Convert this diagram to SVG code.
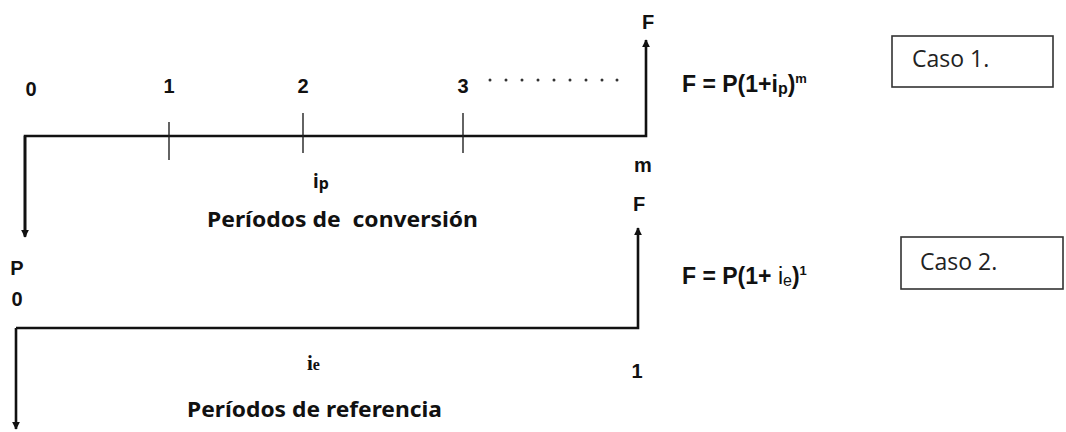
<svg xmlns="http://www.w3.org/2000/svg" width="1066" height="432" viewBox="0 0 1066 432">
<defs>
<marker id="ah" viewBox="0 0 10 10" refX="9" refY="5" markerWidth="8" markerHeight="8" markerUnits="userSpaceOnUse" orient="auto">
<path d="M0,0 L10,5 L0,10 z" fill="#111"/>
</marker>
<style>
.ax{fill:none;stroke:#111;stroke-width:2.6;stroke-linejoin:miter}
.tk{stroke:#222;stroke-width:1.4}
.lb{font-family:"Liberation Sans",Arial,sans-serif;font-weight:bold;font-size:20px;fill:#111;text-anchor:middle}
.fm{font-family:"Liberation Sans",Arial,sans-serif;font-weight:bold;font-size:23px;fill:#111}
.pd{font-family:"Noto Sans","DejaVu Sans",sans-serif;font-weight:bold;font-size:22px;fill:#111}
.cs{font-family:"Open Sans",sans-serif;font-size:23px;fill:#222}
.bx{fill:#fff;stroke:#333;stroke-width:1.6}
.dt{fill:#333}
</style>
</defs>
<rect width="1066" height="432" fill="#fff"/>

<g id="connectors">
<path class="ax" d="M25,236 V136 H646 V40" marker-end="url(#ah)"/>
<path class="ax" d="M25,136 V237" marker-end="url(#ah)"/>
<line class="tk" x1="169" y1="122" x2="169" y2="160"/>
<line class="tk" x1="303" y1="113" x2="303" y2="153"/>
<line class="tk" x1="463" y1="113" x2="463" y2="153"/>
<path class="ax" d="M16,328 H638 V228" marker-end="url(#ah)"/>
<path class="ax" d="M16,328 V429" marker-end="url(#ah)"/>
</g>

<g id="case1-labels">
<text class="lb" x="31" y="96">0</text>
<text class="lb" x="169" y="93">1</text>
<text class="lb" x="303" y="93">2</text>
<text class="lb" x="463" y="93">3</text>
<g id="dots">
<circle class="dt" cx="490" cy="80" r="1.5"/>
<circle class="dt" cx="506" cy="80" r="1.5"/>
<circle class="dt" cx="522" cy="80" r="1.5"/>
<circle class="dt" cx="538" cy="80" r="1.5"/>
<circle class="dt" cx="554" cy="80" r="1.5"/>
<circle class="dt" cx="570" cy="80" r="1.5"/>
<circle class="dt" cx="586" cy="80" r="1.5"/>
<circle class="dt" cx="602" cy="80" r="1.5"/>
<circle class="dt" cx="617" cy="80" r="1.5"/>
</g>
<text class="lb" x="648" y="29">F</text>
<text class="lb" x="643" y="172">m</text>
<text class="pd" x="313" y="188" style="font-size:19px">i<tspan style="font-size:16px" dy="1">p</tspan></text>
<text class="pd" x="207" y="227" textLength="271" lengthAdjust="spacingAndGlyphs" xml:space="preserve">Períodos de  conversión</text>
</g>

<g id="formula1">
<text class="fm" x="682" y="92">F = P(1+i<tspan style="font-size:16px" dy="2">p</tspan><tspan dy="-2">)</tspan><tspan style="font-size:13px" dy="-9">m</tspan></text>
</g>

<g id="caso1">
<rect class="bx" x="892" y="36" width="161" height="51"/>
<text class="cs" x="912" y="67">Caso 1.</text>
</g>

<g id="case2-labels">
<text class="lb" x="17" y="275">P</text>
<text class="lb" x="17" y="306">0</text>
<text class="lb" x="639" y="211">F</text>
<text class="lb" x="637" y="378">1</text>
<text x="307" y="370" style="font-family:'Liberation Serif','Times New Roman',serif;font-weight:bold;font-size:21px;fill:#111">i<tspan style="font-size:16px">e</tspan></text>
<text class="pd" x="187" y="417" textLength="255" lengthAdjust="spacingAndGlyphs">Períodos de referencia</text>
</g>

<g id="formula2">
<text class="fm" x="682" y="284">F = P(1+ <tspan style="font-weight:normal">i</tspan><tspan style="font-size:16px;font-weight:normal" dy="2">e</tspan><tspan dy="-2">)</tspan><tspan style="font-size:13px" dy="-9">1</tspan></text>
</g>

<g id="caso2">
<rect class="bx" x="901" y="237" width="162" height="52"/>
<text class="cs" x="920" y="270">Caso 2.</text>
</g>
</svg>
